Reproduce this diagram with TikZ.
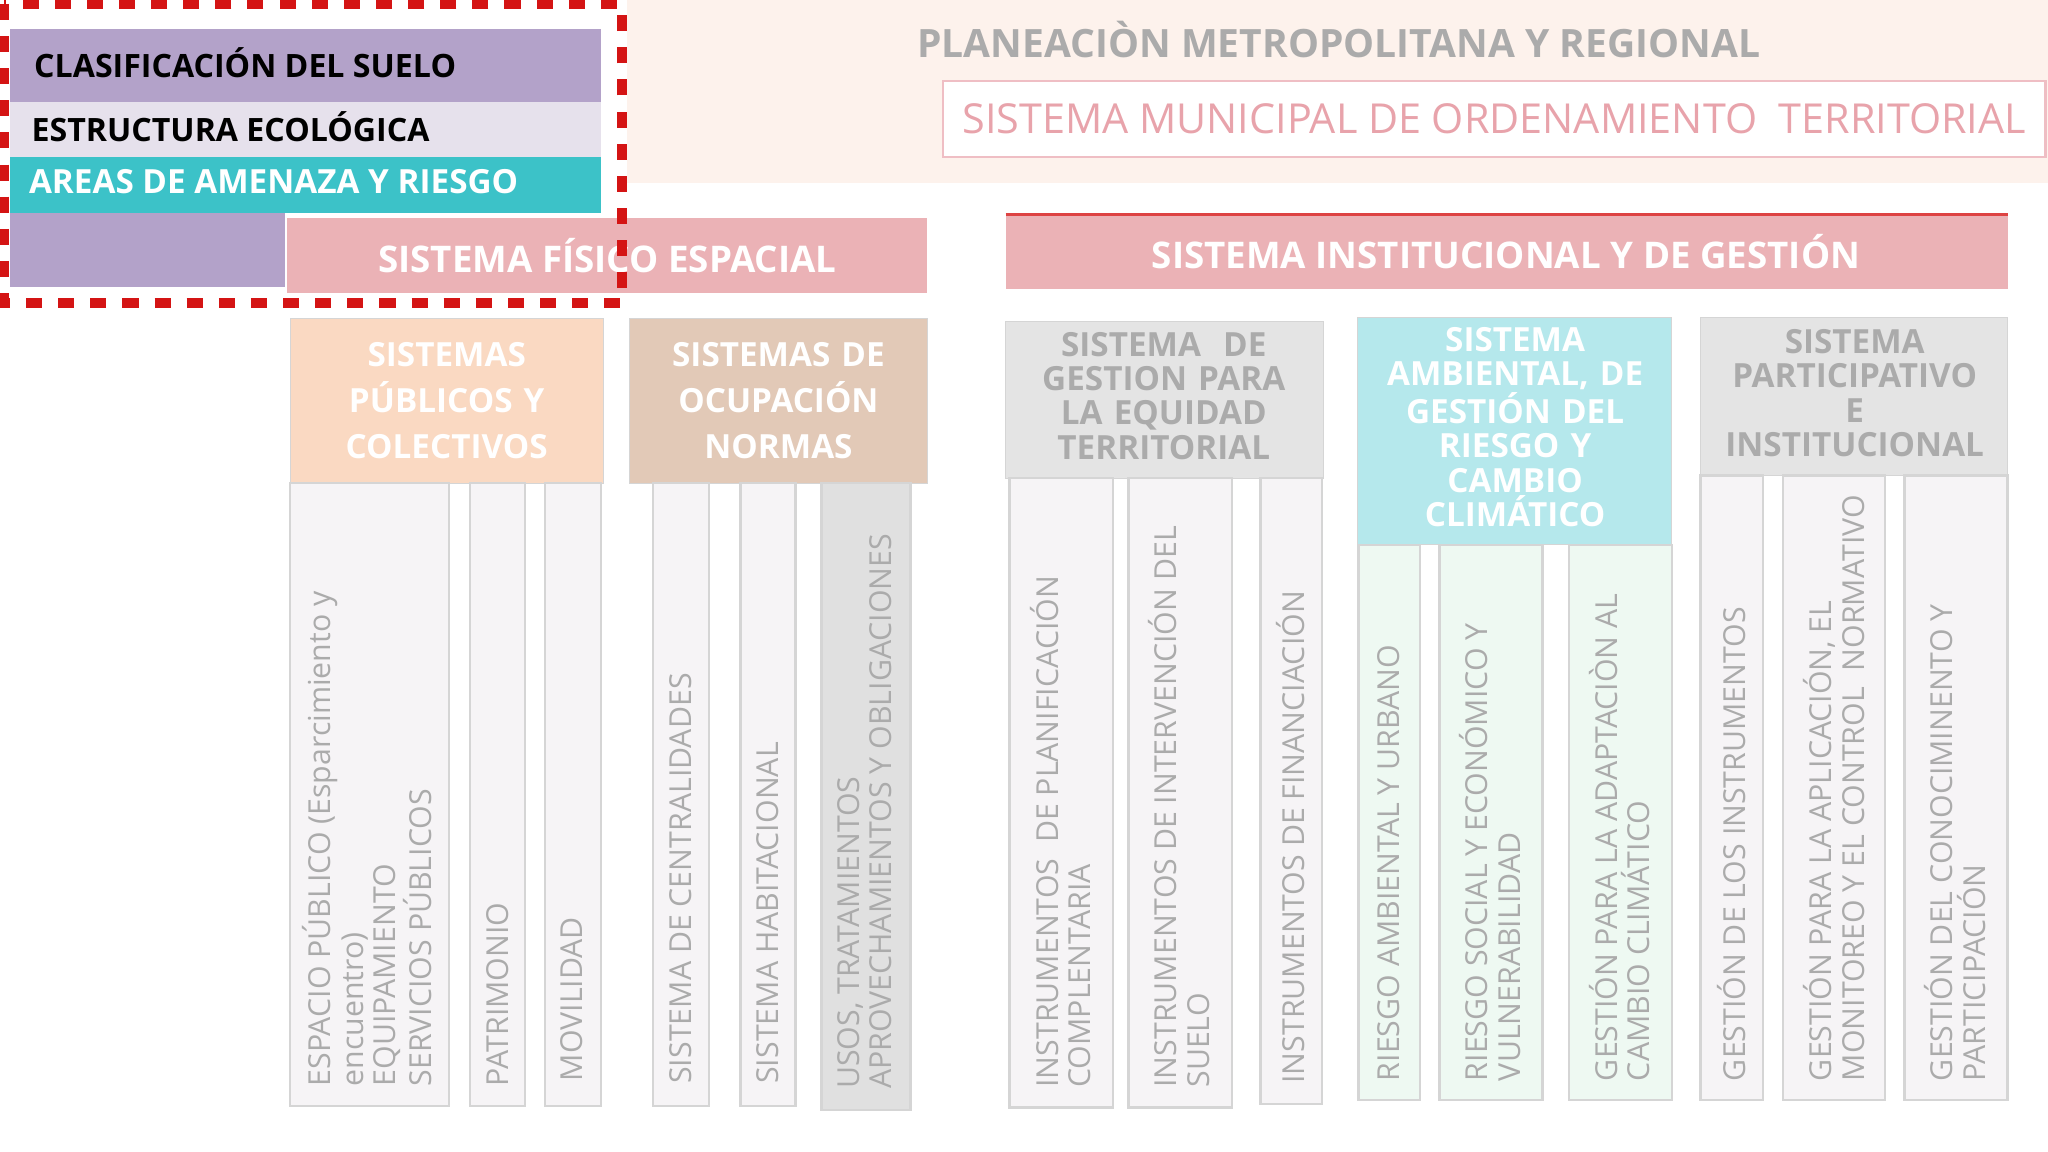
\documentclass[tikz,border=0pt]{standalone}
\usepackage{fontspec}
\setmainfont{Open Sans}
\definecolor{peachbg}{HTML}{FDF2EC}
\definecolor{pinkt}{HTML}{E8A3AB}
\definecolor{pinkbar}{HTML}{EBB2B6}
\definecolor{purp}{HTML}{B3A2C9}
\definecolor{lav}{HTML}{E6E1EC}
\definecolor{teal}{HTML}{3CC2C8}
\definecolor{peachh}{HTML}{FAD9C2}
\definecolor{tanh}{HTML}{E2C9B7}
\definecolor{greyh}{HTML}{E4E4E4}
\definecolor{cyanh}{HTML}{B5E8EC}
\definecolor{colf}{HTML}{F6F4F6}
\definecolor{colg}{HTML}{EEF9F2}
\definecolor{coldk}{HTML}{E0E0E0}
\definecolor{bord}{HTML}{D5D5D5}
\definecolor{txg}{HTML}{ABABAB}
\definecolor{redd}{HTML}{D41414}
\begin{document}
\begin{tikzpicture}[x=0.02cm,y=-0.02cm,
 col/.style={draw=bord,line width=1pt},
 vt/.style={rotate=90,anchor=west,align=left,text=txg,font=\fontsize{13.2}{14.3}\selectfont,inner sep=0pt},
 hd/.style={align=center,font=\bfseries\fontsize{14.5}{20}\selectfont,text width=#1}]
\useasboundingbox (0,0) rectangle (1568,882);
\fill[white] (0,0) rectangle (1568,882);
\fill[peachbg] (480,0) rectangle (1568,140);
\node[text=txg,font=\bfseries\fontsize{17}{20}\selectfont] (t1) at (1025,30) {PLANEACIÒN METROPOLITANA Y REGIONAL};
\draw[pinkt!70,fill=white,line width=1pt] (722,62) rectangle (1566,120);
\node[text=pinkt,font=\fontsize{18}{20}\selectfont] (t2) at (1144,91) {SISTEMA MUNICIPAL DE ORDENAMIENTO \ TERRITORIAL};
% left stack
\fill[purp] (8,22) rectangle (460,78);
\node[anchor=west,font=\bfseries\fontsize{14}{16}\selectfont] (c1) at (20,48) {CLASIFICACIÓN DEL SUELO};
\fill[lav] (8,78) rectangle (460,120);
\node[anchor=west,font=\bfseries\fontsize{14}{16}\selectfont] (c2) at (18,97) {ESTRUCTURA ECOLÓGICA};
\fill[teal] (8,120) rectangle (460,163);
\node[anchor=west,text=white,font=\bfseries\fontsize{14.5}{16}\selectfont] (c3) at (16,139) {AREAS DE AMENAZA Y RIESGO};
\fill[purp] (8,163) rectangle (218,220);
\fill[pinkbar] (220,167) rectangle (710,224);
\node[text=white,font=\bfseries\fontsize{16}{18}\selectfont] (s1) at (465,196) {SISTEMA FÍSICO ESPACIAL};
\fill[pinkbar] (770,163) rectangle (1537,221);
\draw[redd!80,line width=1.2pt] (770,164) -- (1537,164);
\node[text=white,font=\bfseries\fontsize{16}{18}\selectfont] (s2) at (1153,193) {SISTEMA INSTITUCIONAL Y DE GESTIÓN};
% headers
\draw[bord,fill=peachh] (222,244) rectangle (462,370);
\node[hd=6cm,text=white] (h1) at (342,307) {SISTEMAS\\PÚBLICOS Y\\COLECTIVOS};
\draw[bord,fill=tanh] (482,244) rectangle (710,370);
\node[hd=6cm,text=white] (h2) at (596,307) {SISTEMAS DE\\OCUPACIÓN\\NORMAS};
\draw[bord,fill=greyh] (770,246) rectangle (1013,366);
\node[hd=6cm,text=txg,font=\bfseries\fontsize{14.5}{15}\selectfont] (h3) at (891,303) {SISTEMA \ DE\\GESTION PARA\\LA EQUIDAD\\TERRITORIAL};
\draw[bord,fill=cyanh] (1039,243) rectangle (1280,417);
\node[hd=6cm,text=white,font=\bfseries\fontsize{14.5}{15}\selectfont] (h4) at (1160,327) {SISTEMA\\AMBIENTAL, DE\\GESTIÓN DEL\\RIESGO Y\\CAMBIO\\CLIMÁTICO};
\draw[bord,fill=greyh] (1302,243) rectangle (1537,364);
\node[hd=6cm,text=txg,font=\bfseries\fontsize{14.5}{15}\selectfont] (h5) at (1420,301) {SISTEMA\\PARTICIPATIVO\\E\\INSTITUCIONAL};
% columns
\draw[col,fill=colf] (222,370) rectangle (344,847);
\node[vt] (v1) at (281,832) {ESPACIO PÚBLICO (Esparcimiento y\\encuentro)\\EQUIPAMIENTO\\SERVICIOS PÚBLICOS};
\draw[col,fill=colf] (360,370) rectangle (402,847);
\node[vt] (v2) at (381,832) {PATRIMONIO};
\draw[col,fill=colf] (417,370) rectangle (460,847);
\node[vt] (v3) at (438,828) {MOVILIDAD};
\draw[col,fill=colf] (500,370) rectangle (543,847);
\node[vt] (v4) at (521,830) {SISTEMA DE CENTRALIDADES};
\draw[col,fill=colf] (567,370) rectangle (609,847);
\node[vt] (v5) at (588,830) {SISTEMA HABITACIONAL};
\draw[col,fill=coldk] (629,370) rectangle (697,850);
\node[vt] (v6) at (662,834) {USOS, TRATAMIENTOS\\APROVECHAMIENTOS Y OBLIGACIONES};
\draw[col,fill=colf] (773,366) rectangle (852,848);
\node[vt] (v7) at (812,833) {INSTRUMENTOS \ DE PLANIFICACIÓN\\COMPLENTARIA};
\draw[col,fill=colf] (864,366) rectangle (943,848);
\node[vt] (v8) at (903,833) {INSTRUMENTOS DE INTERVENCIÓN DEL\\SUELO};
\draw[col,fill=colf] (965,366) rectangle (1012,845);
\node[vt] (v9) at (988,830) {INSTRUMENTOS DE FINANCIACIÓN};
\draw[col,fill=colg] (1040,417) rectangle (1087,842);
\node[vt] (v10) at (1063,828) {RIESGO AMBIENTAL Y URBANO};
\draw[col,fill=colg] (1102,417) rectangle (1181,842);
\node[vt] (v11) at (1141,828) {RIESGO SOCIAL Y ECONÓMICO Y\\VULNERABILIDAD};
\draw[col,fill=colg] (1201,417) rectangle (1280,842);
\node[vt] (v12) at (1240,828) {GESTIÓN PARA LA ADAPTACIÒN AL\\CAMBIO CLIMÁTICO};
\draw[col,fill=colf] (1302,364) rectangle (1350,842);
\node[vt] (v13) at (1326,828) {GESTIÓN DE LOS INSTRUMENTOS};
\draw[col,fill=colf] (1365,364) rectangle (1443,842);
\node[vt] (v14) at (1404,828) {GESTIÓN PARA LA APLICACIÓN, EL\\MONITOREO Y EL CONTROL \ NORMATIVO};
\draw[col,fill=colf] (1458,364) rectangle (1537,842);
\node[vt] (v15) at (1497,828) {GESTIÓN DEL CONOCIMINENTO Y\\PARTICIPACIÓN};
% red dashed frame
\draw[redd,line width=4.5pt,dash pattern=on 7pt off 7pt] (3,3) rectangle (476,232);
\end{tikzpicture}
\end{document}
